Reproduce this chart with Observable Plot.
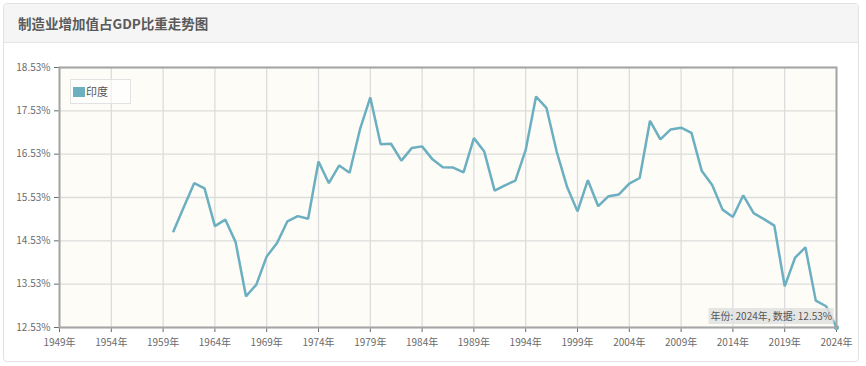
<!DOCTYPE html>
<html>
<head>
<meta charset="utf-8">
<script src="https://cdn.jsdelivr.net/npm/d3@7"></script>
<script src="https://cdn.jsdelivr.net/npm/@observablehq/plot@0.6"></script>
<style>
  html, body { margin: 0; padding: 0; background: #fff; }
  #wrap { position: relative; width: 866px; height: 366px; overflow: hidden; font-family: "Noto Sans CJK SC", "Noto Sans", sans-serif; }
  #panel { position: absolute; left: 3px; top: 3px; width: 856px; height: 359px; border: 1px solid #e2e2e2; border-radius: 4px; box-sizing: border-box; }
  #header { position: absolute; left: 4px; top: 4px; width: 854px; height: 38px; background: #f5f5f5; border-bottom: 1px solid #e4e4e4; border-radius: 3px 3px 0 0; }
  #title { position: absolute; left: 18px; top: 13px; font-size: 13.5px; font-weight: bold; color: #5a5a5a; }
  #chart { position: absolute; left: 0; top: 43px; }
  #legend { position: absolute; left: 70px; top: 79px; width: 61px; height: 25px; border: 1px solid #e2e2e2; background: rgba(255,255,255,0.6); box-sizing: border-box; font-size: 11px; color: #555; }
  #legend .sw { position: absolute; left: 2px; top: 7px; width: 12px; height: 10px; }
  #legend .lb { position: absolute; left: 15px; top: 4px; line-height: 14px; }
  #tip { position: absolute; background: rgba(225,225,225,0.85); color: #555; font-size: 10px; line-height: 16px; padding: 0 2px; white-space: nowrap; transform: translate(-100%, -100%); }
</style>
</head>
<body>
<div id="wrap">
  <div id="panel"></div>
  <div id="header"></div>
  <div id="title">制造业增加值占GDP比重走势图</div>
  <div id="chart"></div>
  <div id="legend"><div class="sw"></div><div class="lb"></div></div>
  <div id="tip"></div>
</div>
<script>
const seriesName = "印度";
const years = d3.range(1960, 2025);
const values = [
  14.75, 15.31, 15.86, 15.74, 14.87, 15.02, 14.50, 13.25, 13.52, 14.17,
  14.48, 14.98, 15.10, 15.04, 16.36, 15.86, 16.27, 16.10, 17.10, 17.84,
  16.76, 16.77, 16.38, 16.67, 16.71, 16.41, 16.23, 16.22, 16.11, 16.90,
  16.59, 15.69, 15.81, 15.92, 16.63, 17.86, 17.60, 16.58, 15.77, 15.21,
  15.93, 15.33, 15.56, 15.60, 15.85, 15.98, 17.30, 16.87, 17.10, 17.14,
  17.02, 16.14, 15.82, 15.25, 15.08, 15.58, 15.17, 15.03, 14.88, 13.48,
  14.14, 14.38, 13.15, 13.02, 12.53
];
const xTicks = [1949, 1954, 1959, 1964, 1969, 1974, 1979, 1984, 1989, 1994, 1999, 2004, 2009, 2014, 2019, 2024];
const yTicks = [12.53, 13.53, 14.53, 15.53, 16.53, 17.53, 18.53];

const lineColor = "#6cafc1";
const data = years.map((y, i) => ({year: y, value: values[i]}));

const plot = Plot.plot({
  width: 866,
  height: 323,
  marginLeft: 59,
  marginRight: 30,
  marginTop: 24,
  marginBottom: 39,
  style: {fontFamily: "'Noto Sans CJK SC', 'Noto Sans', sans-serif", fontSize: "10px", color: "#6a6a6a", background: "transparent", overflow: "visible"},
  x: {domain: [1949, 2024], ticks: xTicks, tickFormat: d => d + "年", tickSize: 5, tickPadding: 6, label: null},
  y: {domain: [12.53, 18.53], ticks: yTicks, tickFormat: d => d.toFixed(2) + "%", tickSize: 5, tickPadding: 4, label: null},
  marks: [
    Plot.frame({fill: "#fdfcf7", stroke: null}),
    Plot.ruleX(xTicks, {stroke: "#dcdcdc", strokeWidth: 1.3}),
    Plot.ruleY(yTicks, {stroke: "#dcdcdc", strokeWidth: 1.3}),
    Plot.line(data, {x: "year", y: "value", stroke: lineColor, strokeWidth: 2.5, strokeLinejoin: "miter"}),
    Plot.dot(data.slice(-1), {x: "year", y: "value", r: 2.5, fill: lineColor, stroke: null}),
    Plot.frame({stroke: "#a5a5a5", strokeWidth: 2})
  ]
});
document.getElementById("chart").appendChild(plot);

// legend
document.querySelector("#legend .sw").style.background = lineColor;
document.querySelector("#legend .lb").textContent = seriesName;

// tooltip anchored to last datum via the plot's scales
const last = data[data.length - 1];
const px = plot.scale("x").apply(last.year);
const py = plot.scale("y").apply(last.value);
const tip = document.getElementById("tip");
tip.textContent = `年份: ${last.year}年, 数据: ${last.value.toFixed(2)}%`;
tip.style.left = (px - 2) + "px";
tip.style.top = (43 + py - 3) + "px";
</script>
</body>
</html>
